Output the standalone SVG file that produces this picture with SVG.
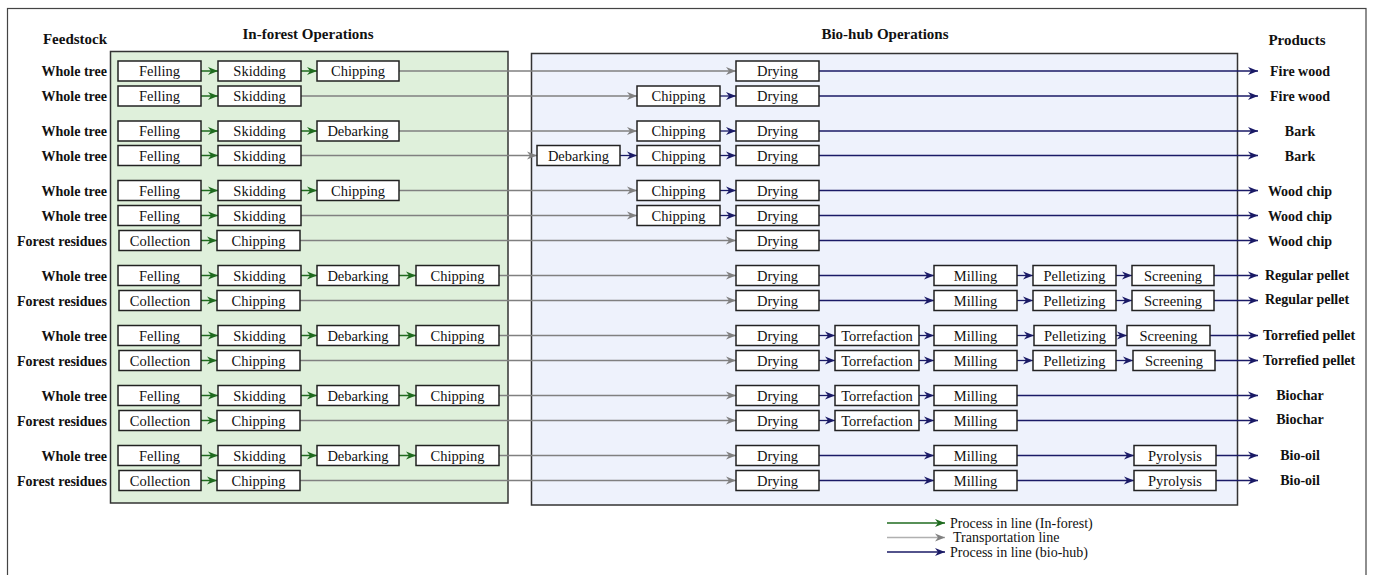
<svg xmlns="http://www.w3.org/2000/svg" width="1373" height="575" viewBox="0 0 1373 575">
<style>
.bx{fill:#fff;stroke:#222;stroke-width:1.5}
.bt{font-family:"Liberation Serif","Times New Roman",serif;font-size:14.5px;text-anchor:middle;fill:#111}
.lb{font-family:"Liberation Serif","Times New Roman",serif;font-size:14px;font-weight:bold;fill:#111}
.rl{text-anchor:end}
.pm{text-anchor:middle}
.ti{font-family:"Liberation Serif","Times New Roman",serif;font-size:15px;font-weight:bold;fill:#111;text-anchor:middle}
.lg{font-family:"Liberation Serif","Times New Roman",serif;font-size:14px;fill:#111}
.cg{stroke:#1f6b1f;stroke-width:1.5;fill:none;marker-end:url(#ag)}
.cr{stroke:#808080;stroke-width:1.5;fill:none;marker-end:url(#ar)}
.cb{stroke:#1a1a66;stroke-width:1.3;fill:none;marker-end:url(#ab)}
</style>
<defs>
<marker id="ag" markerUnits="userSpaceOnUse" markerWidth="11" markerHeight="10" refX="10" refY="4.5" orient="auto"><path d="M0,0.5 L10,4.5 L0,8.5 L3,4.5 z" fill="#1f6b1f"/></marker>
<marker id="ar" markerUnits="userSpaceOnUse" markerWidth="11" markerHeight="10" refX="10" refY="4.5" orient="auto"><path d="M0,0.5 L10,4.5 L0,8.5 L3,4.5 z" fill="#808080"/></marker>
<marker id="ab" markerUnits="userSpaceOnUse" markerWidth="11" markerHeight="10" refX="10" refY="4.5" orient="auto"><path d="M0,0.5 L10,4.5 L0,8.5 L3,4.5 z" fill="#1a1a66"/></marker>
</defs>
<rect x="0" y="0" width="1373" height="575" fill="#fff"/>
<rect x="7.5" y="8.5" width="1358.5" height="580" fill="none" stroke="#444" stroke-width="1.2"/>
<g id="in-forest-area"><rect x="110.5" y="51.5" width="397.5" height="451.5" fill="#dff0db" stroke="#333" stroke-width="1.5"/></g>
<g id="bio-hub-area"><rect x="531.5" y="53.5" width="706" height="451.5" fill="#eef2fc" stroke="#333" stroke-width="1.5"/></g>
<g id="titles">
<text class="ti" x="75" y="44">Feedstock</text>
<text class="ti" x="308" y="39">In-forest Operations</text>
<text class="ti" x="885" y="39">Bio-hub Operations</text>
<text class="ti" x="1297" y="45">Products</text>
</g>
<g id="feedstock-labels" class="lb rl">
<text x="107" y="76">Whole tree</text>
<text x="107" y="101">Whole tree</text>
<text x="107" y="136">Whole tree</text>
<text x="107" y="160.5">Whole tree</text>
<text x="107" y="195.5">Whole tree</text>
<text x="107" y="220.5">Whole tree</text>
<text x="107" y="245.5">Forest residues</text>
<text x="107" y="280.5">Whole tree</text>
<text x="107" y="305.5">Forest residues</text>
<text x="107" y="340.5">Whole tree</text>
<text x="107" y="365.5">Forest residues</text>
<text x="107" y="400.5">Whole tree</text>
<text x="107" y="425.5">Forest residues</text>
<text x="107" y="460.5">Whole tree</text>
<text x="107" y="485.5">Forest residues</text>
</g>
<g id="product-labels" class="lb">
<text class="pm" x="1300" y="76">Fire wood</text>
<text class="pm" x="1300" y="101">Fire wood</text>
<text class="pm" x="1300" y="136">Bark</text>
<text class="pm" x="1300" y="160.5">Bark</text>
<text class="pm" x="1300" y="195.5">Wood chip</text>
<text class="pm" x="1300" y="220.5">Wood chip</text>
<text class="pm" x="1300" y="245.5">Wood chip</text>
<text x="1265" y="280">Regular pellet</text>
<text x="1265" y="304">Regular pellet</text>
<text x="1263" y="340">Torrefied pellet</text>
<text x="1263" y="364.5">Torrefied pellet</text>
<text class="pm" x="1300" y="400">Biochar</text>
<text class="pm" x="1300" y="424">Biochar</text>
<text class="pm" x="1300" y="460">Bio-oil</text>
<text class="pm" x="1300" y="485">Bio-oil</text>
</g>
<g id="connectors">
<line class="cg" x1="201" y1="71" x2="218" y2="71"/><line class="cg" x1="301" y1="71" x2="317" y2="71"/><line class="cr" x1="399" y1="71" x2="736" y2="71"/><line class="cb" x1="819" y1="71" x2="1258" y2="71"/>
<line class="cg" x1="201" y1="96" x2="218" y2="96"/><line class="cr" x1="301" y1="96" x2="637" y2="96"/><line class="cb" x1="720" y1="96" x2="736" y2="96"/><line class="cb" x1="819" y1="96" x2="1258" y2="96"/>
<line class="cg" x1="201" y1="131" x2="218" y2="131"/><line class="cg" x1="301" y1="131" x2="317" y2="131"/><line class="cr" x1="399" y1="131" x2="637" y2="131"/><line class="cb" x1="720" y1="131" x2="736" y2="131"/><line class="cb" x1="819" y1="131" x2="1258" y2="131"/>
<line class="cg" x1="201" y1="155.5" x2="218" y2="155.5"/><line class="cr" x1="301" y1="155.5" x2="537" y2="155.5"/><line class="cb" x1="620" y1="155.5" x2="637" y2="155.5"/><line class="cb" x1="720" y1="155.5" x2="736" y2="155.5"/><line class="cb" x1="819" y1="155.5" x2="1258" y2="155.5"/>
<line class="cg" x1="201" y1="190.5" x2="218" y2="190.5"/><line class="cg" x1="301" y1="190.5" x2="317" y2="190.5"/><line class="cr" x1="399" y1="190.5" x2="637" y2="190.5"/><line class="cb" x1="720" y1="190.5" x2="736" y2="190.5"/><line class="cb" x1="819" y1="190.5" x2="1258" y2="190.5"/>
<line class="cg" x1="201" y1="215.5" x2="218" y2="215.5"/><line class="cr" x1="301" y1="215.5" x2="637" y2="215.5"/><line class="cb" x1="720" y1="215.5" x2="736" y2="215.5"/><line class="cb" x1="819" y1="215.5" x2="1258" y2="215.5"/>
<line class="cg" x1="201" y1="240.5" x2="217" y2="240.5"/><line class="cr" x1="300" y1="240.5" x2="736" y2="240.5"/><line class="cb" x1="819" y1="240.5" x2="1258" y2="240.5"/>
<line class="cg" x1="201" y1="275.5" x2="218" y2="275.5"/><line class="cg" x1="301" y1="275.5" x2="317" y2="275.5"/><line class="cg" x1="399" y1="275.5" x2="416" y2="275.5"/><line class="cr" x1="499" y1="275.5" x2="736" y2="275.5"/><line class="cb" x1="819" y1="275.5" x2="934" y2="275.5"/><line class="cb" x1="1017" y1="275.5" x2="1033" y2="275.5"/><line class="cb" x1="1116" y1="275.5" x2="1132" y2="275.5"/><line class="cb" x1="1214" y1="275.5" x2="1258" y2="275.5"/>
<line class="cg" x1="201" y1="300.5" x2="217" y2="300.5"/><line class="cr" x1="300" y1="300.5" x2="736" y2="300.5"/><line class="cb" x1="819" y1="300.5" x2="934" y2="300.5"/><line class="cb" x1="1017" y1="300.5" x2="1033" y2="300.5"/><line class="cb" x1="1116" y1="300.5" x2="1132" y2="300.5"/><line class="cb" x1="1214" y1="300.5" x2="1258" y2="300.5"/>
<line class="cg" x1="201" y1="335.5" x2="218" y2="335.5"/><line class="cg" x1="301" y1="335.5" x2="317" y2="335.5"/><line class="cg" x1="399" y1="335.5" x2="416" y2="335.5"/><line class="cr" x1="499" y1="335.5" x2="736" y2="335.5"/><line class="cb" x1="819" y1="335.5" x2="835" y2="335.5"/><line class="cb" x1="919" y1="335.5" x2="934" y2="335.5"/><line class="cb" x1="1017" y1="335.5" x2="1034" y2="335.5"/><line class="cb" x1="1116" y1="335.5" x2="1127" y2="335.5"/><line class="cb" x1="1210" y1="335.5" x2="1258" y2="335.5"/>
<line class="cg" x1="201" y1="360.5" x2="217" y2="360.5"/><line class="cr" x1="300" y1="360.5" x2="736" y2="360.5"/><line class="cb" x1="819" y1="360.5" x2="835" y2="360.5"/><line class="cb" x1="919" y1="360.5" x2="934" y2="360.5"/><line class="cb" x1="1017" y1="360.5" x2="1033" y2="360.5"/><line class="cb" x1="1116" y1="360.5" x2="1133" y2="360.5"/><line class="cb" x1="1215" y1="360.5" x2="1258" y2="360.5"/>
<line class="cg" x1="201" y1="395.5" x2="218" y2="395.5"/><line class="cg" x1="301" y1="395.5" x2="317" y2="395.5"/><line class="cg" x1="399" y1="395.5" x2="416" y2="395.5"/><line class="cr" x1="499" y1="395.5" x2="736" y2="395.5"/><line class="cb" x1="819" y1="395.5" x2="835" y2="395.5"/><line class="cb" x1="919" y1="395.5" x2="934" y2="395.5"/><line class="cb" x1="1017" y1="395.5" x2="1258" y2="395.5"/>
<line class="cg" x1="201" y1="420.5" x2="217" y2="420.5"/><line class="cr" x1="300" y1="420.5" x2="736" y2="420.5"/><line class="cb" x1="819" y1="420.5" x2="835" y2="420.5"/><line class="cb" x1="919" y1="420.5" x2="934" y2="420.5"/><line class="cb" x1="1017" y1="420.5" x2="1258" y2="420.5"/>
<line class="cg" x1="201" y1="455.5" x2="218" y2="455.5"/><line class="cg" x1="301" y1="455.5" x2="317" y2="455.5"/><line class="cg" x1="399" y1="455.5" x2="416" y2="455.5"/><line class="cr" x1="499" y1="455.5" x2="736" y2="455.5"/><line class="cb" x1="819" y1="455.5" x2="934" y2="455.5"/><line class="cb" x1="1017" y1="455.5" x2="1134" y2="455.5"/><line class="cb" x1="1216" y1="455.5" x2="1258" y2="455.5"/>
<line class="cg" x1="201" y1="480.5" x2="217" y2="480.5"/><line class="cr" x1="300" y1="480.5" x2="736" y2="480.5"/><line class="cb" x1="819" y1="480.5" x2="934" y2="480.5"/><line class="cb" x1="1017" y1="480.5" x2="1134" y2="480.5"/><line class="cb" x1="1216" y1="480.5" x2="1258" y2="480.5"/>
</g>
<g id="r1-felling"><rect class="bx" x="118" y="61" width="83" height="20"/><text class="bt" x="159.5" y="76">Felling</text></g>
<g id="r1-skidding"><rect class="bx" x="218" y="61" width="83" height="20"/><text class="bt" x="259.5" y="76">Skidding</text></g>
<g id="r1-chipping"><rect class="bx" x="317" y="61" width="82" height="20"/><text class="bt" x="358" y="76">Chipping</text></g>
<g id="r1-drying"><rect class="bx" x="736" y="61" width="83" height="20"/><text class="bt" x="777.5" y="76">Drying</text></g>
<g id="r2-felling"><rect class="bx" x="118" y="86" width="83" height="20"/><text class="bt" x="159.5" y="101">Felling</text></g>
<g id="r2-skidding"><rect class="bx" x="218" y="86" width="83" height="20"/><text class="bt" x="259.5" y="101">Skidding</text></g>
<g id="r2-chipping"><rect class="bx" x="637" y="86" width="83" height="20"/><text class="bt" x="678.5" y="101">Chipping</text></g>
<g id="r2-drying"><rect class="bx" x="736" y="86" width="83" height="20"/><text class="bt" x="777.5" y="101">Drying</text></g>
<g id="r3-felling"><rect class="bx" x="118" y="121" width="83" height="20"/><text class="bt" x="159.5" y="136">Felling</text></g>
<g id="r3-skidding"><rect class="bx" x="218" y="121" width="83" height="20"/><text class="bt" x="259.5" y="136">Skidding</text></g>
<g id="r3-debarking"><rect class="bx" x="317" y="121" width="82" height="20"/><text class="bt" x="358" y="136">Debarking</text></g>
<g id="r3-chipping"><rect class="bx" x="637" y="121" width="83" height="20"/><text class="bt" x="678.5" y="136">Chipping</text></g>
<g id="r3-drying"><rect class="bx" x="736" y="121" width="83" height="20"/><text class="bt" x="777.5" y="136">Drying</text></g>
<g id="r4-felling"><rect class="bx" x="118" y="145.5" width="83" height="20"/><text class="bt" x="159.5" y="160.5">Felling</text></g>
<g id="r4-skidding"><rect class="bx" x="218" y="145.5" width="83" height="20"/><text class="bt" x="259.5" y="160.5">Skidding</text></g>
<g id="r4-debarking"><rect class="bx" x="537" y="145.5" width="83" height="20"/><text class="bt" x="578.5" y="160.5">Debarking</text></g>
<g id="r4-chipping"><rect class="bx" x="637" y="145.5" width="83" height="20"/><text class="bt" x="678.5" y="160.5">Chipping</text></g>
<g id="r4-drying"><rect class="bx" x="736" y="145.5" width="83" height="20"/><text class="bt" x="777.5" y="160.5">Drying</text></g>
<g id="r5-felling"><rect class="bx" x="118" y="180.5" width="83" height="20"/><text class="bt" x="159.5" y="195.5">Felling</text></g>
<g id="r5-skidding"><rect class="bx" x="218" y="180.5" width="83" height="20"/><text class="bt" x="259.5" y="195.5">Skidding</text></g>
<g id="r5-chipping-forest"><rect class="bx" x="317" y="180.5" width="82" height="20"/><text class="bt" x="358" y="195.5">Chipping</text></g>
<g id="r5-chipping"><rect class="bx" x="637" y="180.5" width="83" height="20"/><text class="bt" x="678.5" y="195.5">Chipping</text></g>
<g id="r5-drying"><rect class="bx" x="736" y="180.5" width="83" height="20"/><text class="bt" x="777.5" y="195.5">Drying</text></g>
<g id="r6-felling"><rect class="bx" x="118" y="205.5" width="83" height="20"/><text class="bt" x="159.5" y="220.5">Felling</text></g>
<g id="r6-skidding"><rect class="bx" x="218" y="205.5" width="83" height="20"/><text class="bt" x="259.5" y="220.5">Skidding</text></g>
<g id="r6-chipping"><rect class="bx" x="637" y="205.5" width="83" height="20"/><text class="bt" x="678.5" y="220.5">Chipping</text></g>
<g id="r6-drying"><rect class="bx" x="736" y="205.5" width="83" height="20"/><text class="bt" x="777.5" y="220.5">Drying</text></g>
<g id="r7-collection"><rect class="bx" x="119" y="230.5" width="82" height="20"/><text class="bt" x="160" y="245.5">Collection</text></g>
<g id="r7-chipping"><rect class="bx" x="217" y="230.5" width="83" height="20"/><text class="bt" x="258.5" y="245.5">Chipping</text></g>
<g id="r7-drying"><rect class="bx" x="736" y="230.5" width="83" height="20"/><text class="bt" x="777.5" y="245.5">Drying</text></g>
<g id="r8-felling"><rect class="bx" x="118" y="265.5" width="83" height="20"/><text class="bt" x="159.5" y="280.5">Felling</text></g>
<g id="r8-skidding"><rect class="bx" x="218" y="265.5" width="83" height="20"/><text class="bt" x="259.5" y="280.5">Skidding</text></g>
<g id="r8-debarking"><rect class="bx" x="317" y="265.5" width="82" height="20"/><text class="bt" x="358" y="280.5">Debarking</text></g>
<g id="r8-chipping"><rect class="bx" x="416" y="265.5" width="83" height="20"/><text class="bt" x="457.5" y="280.5">Chipping</text></g>
<g id="r8-drying"><rect class="bx" x="736" y="265.5" width="83" height="20"/><text class="bt" x="777.5" y="280.5">Drying</text></g>
<g id="r8-milling"><rect class="bx" x="934" y="265.5" width="83" height="20"/><text class="bt" x="975.5" y="280.5">Milling</text></g>
<g id="r8-pelletizing"><rect class="bx" x="1033" y="265.5" width="83" height="20"/><text class="bt" x="1074.5" y="280.5">Pelletizing</text></g>
<g id="r8-screening"><rect class="bx" x="1132" y="265.5" width="82" height="20"/><text class="bt" x="1173" y="280.5">Screening</text></g>
<g id="r9-collection"><rect class="bx" x="119" y="290.5" width="82" height="20"/><text class="bt" x="160" y="305.5">Collection</text></g>
<g id="r9-chipping"><rect class="bx" x="217" y="290.5" width="83" height="20"/><text class="bt" x="258.5" y="305.5">Chipping</text></g>
<g id="r9-drying"><rect class="bx" x="736" y="290.5" width="83" height="20"/><text class="bt" x="777.5" y="305.5">Drying</text></g>
<g id="r9-milling"><rect class="bx" x="934" y="290.5" width="83" height="20"/><text class="bt" x="975.5" y="305.5">Milling</text></g>
<g id="r9-pelletizing"><rect class="bx" x="1033" y="290.5" width="83" height="20"/><text class="bt" x="1074.5" y="305.5">Pelletizing</text></g>
<g id="r9-screening"><rect class="bx" x="1132" y="290.5" width="82" height="20"/><text class="bt" x="1173" y="305.5">Screening</text></g>
<g id="r10-felling"><rect class="bx" x="118" y="325.5" width="83" height="20"/><text class="bt" x="159.5" y="340.5">Felling</text></g>
<g id="r10-skidding"><rect class="bx" x="218" y="325.5" width="83" height="20"/><text class="bt" x="259.5" y="340.5">Skidding</text></g>
<g id="r10-debarking"><rect class="bx" x="317" y="325.5" width="82" height="20"/><text class="bt" x="358" y="340.5">Debarking</text></g>
<g id="r10-chipping"><rect class="bx" x="416" y="325.5" width="83" height="20"/><text class="bt" x="457.5" y="340.5">Chipping</text></g>
<g id="r10-drying"><rect class="bx" x="736" y="325.5" width="83" height="20"/><text class="bt" x="777.5" y="340.5">Drying</text></g>
<g id="r10-torrefaction"><rect class="bx" x="835" y="325.5" width="84" height="20"/><text class="bt" x="877" y="340.5">Torrefaction</text></g>
<g id="r10-milling"><rect class="bx" x="934" y="325.5" width="83" height="20"/><text class="bt" x="975.5" y="340.5">Milling</text></g>
<g id="r10-pelletizing"><rect class="bx" x="1034" y="325.5" width="82" height="20"/><text class="bt" x="1075" y="340.5">Pelletizing</text></g>
<g id="r10-screening"><rect class="bx" x="1127" y="325.5" width="83" height="20"/><text class="bt" x="1168.5" y="340.5">Screening</text></g>
<g id="r11-collection"><rect class="bx" x="119" y="350.5" width="82" height="20"/><text class="bt" x="160" y="365.5">Collection</text></g>
<g id="r11-chipping"><rect class="bx" x="217" y="350.5" width="83" height="20"/><text class="bt" x="258.5" y="365.5">Chipping</text></g>
<g id="r11-drying"><rect class="bx" x="736" y="350.5" width="83" height="20"/><text class="bt" x="777.5" y="365.5">Drying</text></g>
<g id="r11-torrefaction"><rect class="bx" x="835" y="350.5" width="84" height="20"/><text class="bt" x="877" y="365.5">Torrefaction</text></g>
<g id="r11-milling"><rect class="bx" x="934" y="350.5" width="83" height="20"/><text class="bt" x="975.5" y="365.5">Milling</text></g>
<g id="r11-pelletizing"><rect class="bx" x="1033" y="350.5" width="83" height="20"/><text class="bt" x="1074.5" y="365.5">Pelletizing</text></g>
<g id="r11-screening"><rect class="bx" x="1133" y="350.5" width="82" height="20"/><text class="bt" x="1174" y="365.5">Screening</text></g>
<g id="r12-felling"><rect class="bx" x="118" y="385.5" width="83" height="20"/><text class="bt" x="159.5" y="400.5">Felling</text></g>
<g id="r12-skidding"><rect class="bx" x="218" y="385.5" width="83" height="20"/><text class="bt" x="259.5" y="400.5">Skidding</text></g>
<g id="r12-debarking"><rect class="bx" x="317" y="385.5" width="82" height="20"/><text class="bt" x="358" y="400.5">Debarking</text></g>
<g id="r12-chipping"><rect class="bx" x="416" y="385.5" width="83" height="20"/><text class="bt" x="457.5" y="400.5">Chipping</text></g>
<g id="r12-drying"><rect class="bx" x="736" y="385.5" width="83" height="20"/><text class="bt" x="777.5" y="400.5">Drying</text></g>
<g id="r12-torrefaction"><rect class="bx" x="835" y="385.5" width="84" height="20"/><text class="bt" x="877" y="400.5">Torrefaction</text></g>
<g id="r12-milling"><rect class="bx" x="934" y="385.5" width="83" height="20"/><text class="bt" x="975.5" y="400.5">Milling</text></g>
<g id="r13-collection"><rect class="bx" x="119" y="410.5" width="82" height="20"/><text class="bt" x="160" y="425.5">Collection</text></g>
<g id="r13-chipping"><rect class="bx" x="217" y="410.5" width="83" height="20"/><text class="bt" x="258.5" y="425.5">Chipping</text></g>
<g id="r13-drying"><rect class="bx" x="736" y="410.5" width="83" height="20"/><text class="bt" x="777.5" y="425.5">Drying</text></g>
<g id="r13-torrefaction"><rect class="bx" x="835" y="410.5" width="84" height="20"/><text class="bt" x="877" y="425.5">Torrefaction</text></g>
<g id="r13-milling"><rect class="bx" x="934" y="410.5" width="83" height="20"/><text class="bt" x="975.5" y="425.5">Milling</text></g>
<g id="r14-felling"><rect class="bx" x="118" y="445.5" width="83" height="20"/><text class="bt" x="159.5" y="460.5">Felling</text></g>
<g id="r14-skidding"><rect class="bx" x="218" y="445.5" width="83" height="20"/><text class="bt" x="259.5" y="460.5">Skidding</text></g>
<g id="r14-debarking"><rect class="bx" x="317" y="445.5" width="82" height="20"/><text class="bt" x="358" y="460.5">Debarking</text></g>
<g id="r14-chipping"><rect class="bx" x="416" y="445.5" width="83" height="20"/><text class="bt" x="457.5" y="460.5">Chipping</text></g>
<g id="r14-drying"><rect class="bx" x="736" y="445.5" width="83" height="20"/><text class="bt" x="777.5" y="460.5">Drying</text></g>
<g id="r14-milling"><rect class="bx" x="934" y="445.5" width="83" height="20"/><text class="bt" x="975.5" y="460.5">Milling</text></g>
<g id="r14-pyrolysis"><rect class="bx" x="1134" y="445.5" width="82" height="20"/><text class="bt" x="1175" y="460.5">Pyrolysis</text></g>
<g id="r15-collection"><rect class="bx" x="119" y="470.5" width="82" height="20"/><text class="bt" x="160" y="485.5">Collection</text></g>
<g id="r15-chipping"><rect class="bx" x="217" y="470.5" width="83" height="20"/><text class="bt" x="258.5" y="485.5">Chipping</text></g>
<g id="r15-drying"><rect class="bx" x="736" y="470.5" width="83" height="20"/><text class="bt" x="777.5" y="485.5">Drying</text></g>
<g id="r15-milling"><rect class="bx" x="934" y="470.5" width="83" height="20"/><text class="bt" x="975.5" y="485.5">Milling</text></g>
<g id="r15-pyrolysis"><rect class="bx" x="1134" y="470.5" width="82" height="20"/><text class="bt" x="1175" y="485.5">Pyrolysis</text></g>
<g id="legend">
<line class="cg" x1="887" y1="523" x2="945" y2="523"/>
<line x1="887" y1="537.5" x2="945" y2="537.5" stroke="#b0b0b0" stroke-width="1.5" marker-end="url(#ar)"/>
<line class="cb" x1="887" y1="552" x2="945" y2="552"/>
<text class="lg" x="950" y="527.5">Process in line (In-forest)</text>
<text class="lg" x="953" y="542">Transportation line</text>
<text class="lg" x="950" y="556.5">Process in line (bio-hub)</text>
</g>
</svg>
